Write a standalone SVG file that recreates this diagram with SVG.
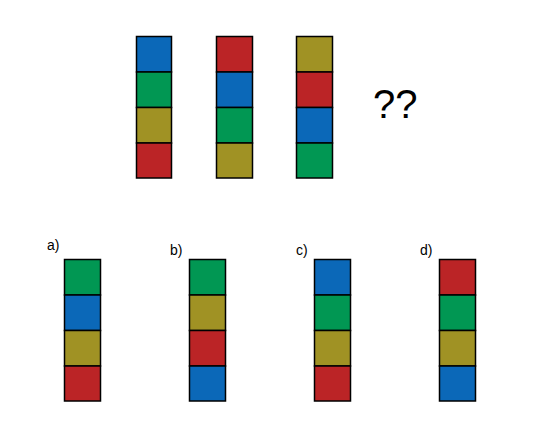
<svg xmlns="http://www.w3.org/2000/svg" width="559" height="447" viewBox="0 0 559 447">
<style>
.c{stroke:#000;stroke-width:1.5}
.b{fill:#0b68b8}.g{fill:#019753}.o{fill:#a09224}.r{fill:#bb2426}
.lbl{font-family:"Liberation Sans",Arial,sans-serif;font-size:14px;fill:#000}
.q{font-family:"Liberation Sans",Arial,sans-serif;font-size:40px;fill:#000}
</style>
<rect width="559" height="447" fill="#fff"/>
<g id="col1">
<rect class="c b" x="136.5" y="36.5" width="35" height="35.5"/>
<rect class="c g" x="136.5" y="72" width="35" height="35.5"/>
<rect class="c o" x="136.5" y="107.5" width="35" height="35.5"/>
<rect class="c r" x="136.5" y="143" width="35" height="35"/>
</g>
<g id="col2">
<rect class="c r" x="216.5" y="36.5" width="36" height="35.5"/>
<rect class="c b" x="216.5" y="72" width="36" height="35.5"/>
<rect class="c g" x="216.5" y="107.5" width="36" height="35.5"/>
<rect class="c o" x="216.5" y="143" width="36" height="35"/>
</g>
<g id="col3">
<rect class="c o" x="296.5" y="36.5" width="36" height="35.5"/>
<rect class="c r" x="296.5" y="72" width="36" height="35.5"/>
<rect class="c b" x="296.5" y="107.5" width="36" height="35.5"/>
<rect class="c g" x="296.5" y="143" width="36" height="35"/>
</g>
<g id="question"><text class="q" x="373" y="118">??</text></g>
<g id="optA">
<text class="lbl" x="47" y="250">a)</text>
<rect class="c g" x="64.5" y="259.5" width="36" height="35.5"/>
<rect class="c b" x="64.5" y="295" width="36" height="35.5"/>
<rect class="c o" x="64.5" y="330.5" width="36" height="35.5"/>
<rect class="c r" x="64.5" y="366" width="36" height="35"/>
</g>
<g id="optB">
<text class="lbl" x="170" y="255">b)</text>
<rect class="c g" x="189.5" y="259.5" width="36" height="35.5"/>
<rect class="c o" x="189.5" y="295" width="36" height="35.5"/>
<rect class="c r" x="189.5" y="330.5" width="36" height="35.5"/>
<rect class="c b" x="189.5" y="366" width="36" height="35"/>
</g>
<g id="optC">
<text class="lbl" x="296" y="255">c)</text>
<rect class="c b" x="314.5" y="259.5" width="36" height="35.5"/>
<rect class="c g" x="314.5" y="295" width="36" height="35.5"/>
<rect class="c o" x="314.5" y="330.5" width="36" height="35.5"/>
<rect class="c r" x="314.5" y="366" width="36" height="35"/>
</g>
<g id="optD">
<text class="lbl" x="420" y="255">d)</text>
<rect class="c r" x="439.5" y="259.5" width="36" height="35.5"/>
<rect class="c g" x="439.5" y="295" width="36" height="35.5"/>
<rect class="c o" x="439.5" y="330.5" width="36" height="35.5"/>
<rect class="c b" x="439.5" y="366" width="36" height="35"/>
</g>
<g id="connectors"/>
</svg>
